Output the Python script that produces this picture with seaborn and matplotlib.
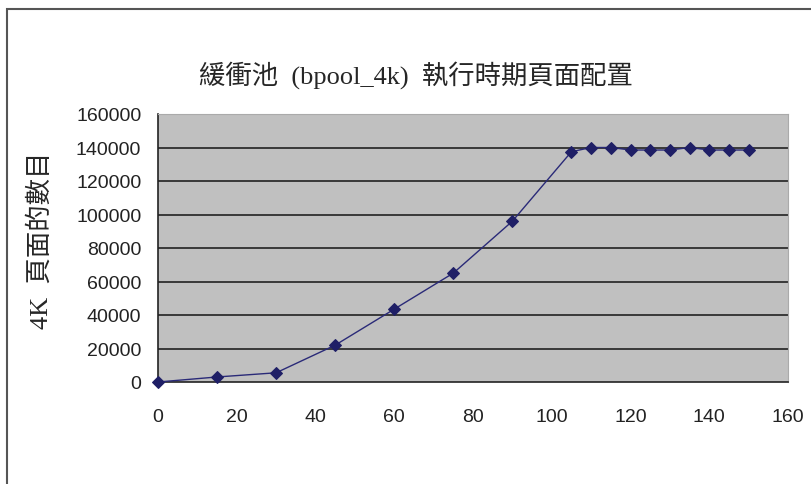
import matplotlib
matplotlib.use("Agg")
import matplotlib.pyplot as plt
import matplotlib.patches as patches
import seaborn as sns
import pandas as pd

# 執行時間 (分) vs 4K 頁面數
minutes = [0, 15, 30, 45, 60, 75, 90, 105, 110, 115, 120, 125, 130, 135, 140, 145, 150]
pages = [0, 3000, 5500, 22000, 43500, 65000, 96000, 137500, 140000, 140000,
         138500, 138500, 138500, 140000, 138500, 138500, 138500]
x_ticks = [0, 20, 40, 60, 80, 100, 120, 140, 160]
y_ticks = [0, 20000, 40000, 60000, 80000, 100000, 120000, 140000, 160000]

df = pd.DataFrame({'x': minutes, 'y': pages})

sns.set_style('white')
plt.rcParams['font.family'] = ['Liberation Sans', 'DejaVu Sans']
serif_cjk = ['Liberation Serif', 'Noto Sans CJK TC', 'DejaVu Sans']

fig = plt.figure(figsize=(8.11, 4.85), dpi=100)
ax = fig.add_axes([158 / 811, 1 - 383 / 485, 630 / 811, 268 / 485])

# outer frame like the pasted Excel chart
fig.patches.append(patches.Rectangle((7 / 811, -0.1), 1.1, 1 - 10 / 485 + 0.1,
                                     transform=fig.transFigure, fill=False,
                                     edgecolor='#555555', linewidth=1.5))

ax.set_facecolor('#c0c0c0')
for yt in y_ticks[1:-1]:
    ax.axhline(yt, color='#222222', linewidth=1.2, zorder=1)

sns.lineplot(data=df, x='x', y='y', ax=ax, color='#2a2a78', linewidth=1.0,
             marker='D', markersize=6.5, markeredgecolor='#1f1f66',
             markerfacecolor='#1f1f66', zorder=3, clip_on=False)

ax.set_xlim(0, 160)
ax.set_ylim(0, 160000)
ax.set_xticks(x_ticks)
ax.set_yticks(y_ticks)
ax.set_xticklabels([str(v) for v in x_ticks], fontsize=14, color='#222222')
ax.set_yticklabels([str(v) for v in y_ticks], fontsize=14, color='#222222')
ax.tick_params(axis='both', direction='out', length=5, width=1.2, color='#222222')
ax.tick_params(axis='x', pad=14)
ax.tick_params(axis='y', pad=7)

for side in ['left', 'bottom']:
    ax.spines[side].set_color('#222222')
    ax.spines[side].set_linewidth(1.2)
for side in ['top', 'right']:
    ax.spines[side].set_color('#aaaaaa')
    ax.spines[side].set_linewidth(0.8)

ax.set_xlabel('')
ax.set_ylabel('')

fig.text(416 / 811, 1 - 75 / 485, '緩衝池  (bpool_4k)  執行時期頁面配置',
         ha='center', va='center', fontsize=19, family=serif_cjk)
fig.text(40 / 811, 1 - 240 / 485, '4K  頁面的數目', rotation=90,
         ha='center', va='center', fontsize=19, family=serif_cjk)

fig.savefig('out.png', dpi=100)
